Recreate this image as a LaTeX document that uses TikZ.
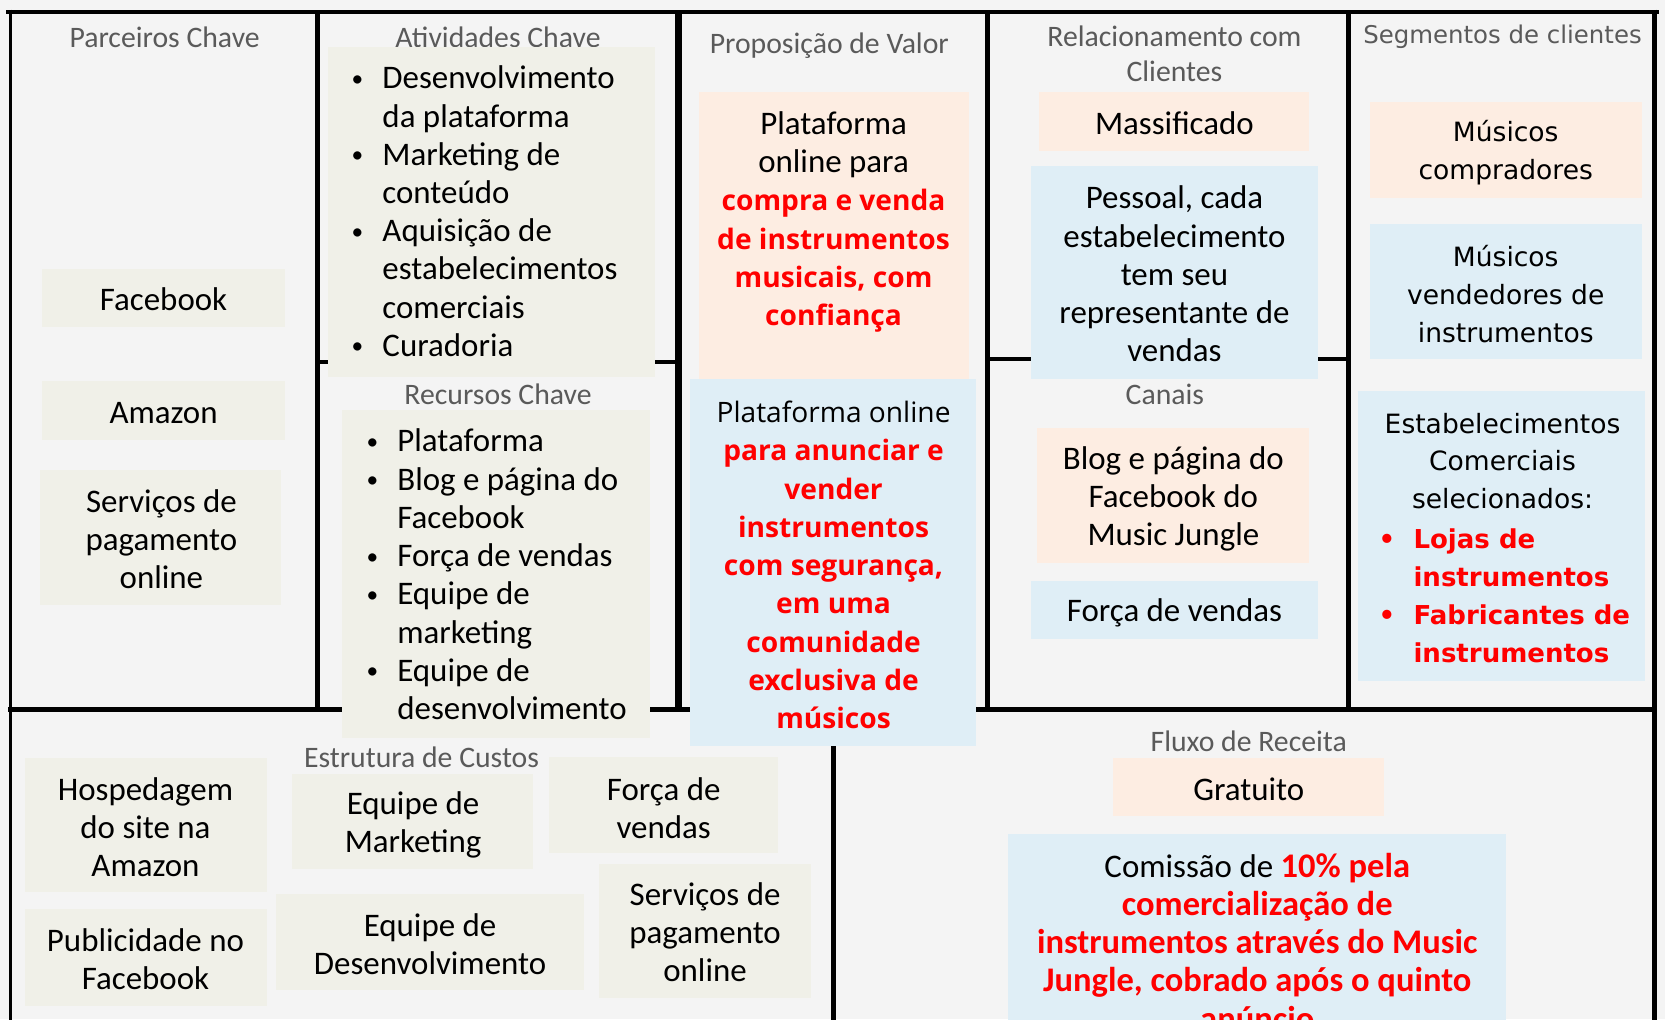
\documentclass[tikz,border=0pt]{standalone}
\usepackage{fontspec}
\setmainfont{Carlito}
\newfontfamily\djvfam{DejaVu Sans}
\newfontfamily\osfam{Open Sans}
\definecolor{bgcol}{RGB}{244,244,244}
\definecolor{beige}{RGB}{240,240,232}
\definecolor{peach}{RGB}{253,237,226}
\definecolor{lblue}{RGB}{223,238,246}
\definecolor{ttlgray}{RGB}{90,90,90}
\newcommand{\bodyfs}{\fontsize{31}{36}\selectfont}
\newcommand{\ttlfs}{\fontsize{28}{33}\selectfont}
\newcommand{\djfs}{\djvfam\fontsize{25}{35.5}\selectfont}
\newcommand{\osreg}[1]{{\osfam\fontsize{26.5}{36}\selectfont #1}}
\newcommand{\osred}[1]{{\osfam\bfseries\fontsize{26.5}{36}\selectfont\color{red}#1}}
\newcommand{\cbred}[1]{{\bfseries\fontsize{32.5}{36}\selectfont\color{red}#1}}
\newcommand{\bul}{\makebox[31pt][l]{\hspace{2pt}\raisebox{2.5pt}{\fontsize{22}{22}\selectfont •}}}
\newcommand{\ind}{\hspace*{31pt}}
\newcommand{\dbul}{\makebox[33pt][l]{•}}
\newcommand{\dind}{\hspace*{33pt}}
\newcommand{\mkbox}[6]{\node[fill=#2,inner sep=0pt,outer sep=0pt,minimum width={(#5-#3)*1pt},minimum height={(#6-#4)*1pt}] (#1) at ({(#3+#5)/2},{(#4+#6)/2}) {};}
\begin{document}
\begin{tikzpicture}[x=1pt,y=-1pt,
  frm/.style={draw=black,line width=4pt},
  body/.style={font=\bodyfs,align=center,inner sep=0pt},
  lst/.style={font=\bodyfs,align=left,inner sep=0pt,anchor=west},
  ttl/.style={font=\ttlfs,text=ttlgray,align=center,inner sep=0pt},
  dj/.style={font=\djfs,align=center,inner sep=0pt}]
\useasboundingbox (0,0) rectangle (1568,960);
\clip (0,0) rectangle (1568,960);
\fill[bgcol] (0,0) rectangle (1568,960);
% frame
\draw[frm] (6,11) -- (1562,11);
\draw[frm,line width=3pt] (10,9) -- (10,965);
\draw[frm] (1558,9) -- (1558,965);
\draw[frm,line width=5pt] (8,668) -- (1560,668);
\draw[frm] (299,11) -- (299,668);
\draw[frm,line width=6pt] (639,11) -- (639,668);
\draw[frm,line width=5pt] (930,11) -- (930,668);
\draw[frm] (1270,11) -- (1270,668);
\draw[frm] (299,341) -- (639,341);
\draw[frm] (930,338) -- (1270,338);
\draw[frm] (785,668) -- (785,965);
% titles
\node[ttl] (h1) at (155,35) {Parceiros Chave};
\node[ttl] (h2) at (469,35) {Atividades Chave};
\node[ttl] (h3) at (469,371) {Recursos Chave};
\node[ttl] (h4) at (781,43) {Proposição de Valor};
\node[ttl] (h5) at (1106,51) {Relacionamento com\\Clientes};
\node[ttl] (h6) at (1097,371) {Canais};
\node[ttl,font=\djvfam\fontsize{23}{30}\selectfont] (h7) at (1415,35) {Segmentos de clientes};
\node[ttl] (h8) at (397,713) {Estrutura de Custos};
\node[ttl] (h9) at (1176,698) {Fluxo de Receita};
% Parceiros
\mkbox{p1}{beige}{40}{253}{268}{308}
\node[body] (tp1) at (154,282) {Facebook};
\mkbox{p2}{beige}{40}{359}{268}{414}
\node[body] (tp2) at (154,389) {Amazon};
\mkbox{p3}{beige}{38}{443}{265}{570}
\node[body] (tp3) at (152,508) {Serviços de\\pagamento\\online};
% Atividades
\mkbox{a1}{beige}{309}{44}{617}{355}
\node[lst] (ta1) at (329,199) {\bul Desenvolvimento\\\ind da plataforma\\\bul Marketing de\\\ind conteúdo\\\bul Aquisição de\\\ind estabelecimentos\\\ind comerciais\\\bul Curadoria};
% Recursos
\mkbox{r1}{beige}{322}{386}{612}{695}
\node[lst] (tr1) at (343,541) {\bul Plataforma\\\bul Blog e página do\\\ind Facebook\\\bul Força de vendas\\\bul Equipe de\\\ind marketing\\\bul Equipe de\\\ind desenvolvimento};
% Proposicao
\mkbox{v1}{peach}{658}{87}{913}{357}
\node[body] (tv1) at (785,209) {Plataforma\\online para\\\osred{compra e venda}\\\osred{de instrumentos}\\\osred{musicais, com}\\\osred{confiança}};
\mkbox{v2}{lblue}{650}{357}{919}{703}
\node[body] (tv2) at (785,532) {\osreg{Plataforma online}\\\osred{para anunciar e}\\\osred{vender}\\\osred{instrumentos}\\\osred{com segurança,}\\\osred{em uma}\\\osred{comunidade}\\\osred{exclusiva de}\\\osred{músicos}};
% Relacionamento
\mkbox{c1}{peach}{978}{87}{1233}{142}
\node[body] (tc1) at (1106,116) {Massificado};
\mkbox{c2}{lblue}{971}{156}{1241}{357}
\node[body] (tc2) at (1106,258) {Pessoal, cada\\estabelecimento\\tem seu\\representante de\\vendas};
% Canais
\mkbox{ch1}{peach}{977}{403}{1233}{530}
\node[body] (tch1) at (1105,470) {Blog e página do\\Facebook do\\Music Jungle};
\mkbox{ch2}{lblue}{971}{547}{1241}{602}
\node[body] (tch2) at (1106,577) {Força de vendas};
% Segmentos
\mkbox{s1}{peach}{1290}{96}{1546}{186}
\node[dj] (ts1) at (1418,144) {Músicos\\compradores};
\mkbox{s2}{lblue}{1290}{211}{1546}{338}
\node[dj] (ts2) at (1418,277) {Músicos\\vendedores de\\instrumentos};
\mkbox{s3}{lblue}{1279}{368}{1549}{641}
\node[dj] (ts3) at (1415,434) {Estabelecimentos\\Comerciais\\selecionados:};
\node[dj,align=left,anchor=west,text=red,font=\djvfam\bfseries\fontsize{24.5}{36}\selectfont] (ts4) at (1298,561) {\dbul Lojas de\\\dind instrumentos\\\dbul Fabricantes de\\\dind instrumentos};
% Custos
\mkbox{k1}{beige}{24}{714}{251}{840}
\node[body] (tk1) at (137,779) {Hospedagem\\do site na\\Amazon};
\mkbox{k2}{beige}{24}{856}{251}{947}
\node[body] (tk2) at (137,903) {Publicidade no\\Facebook};
\mkbox{k3}{beige}{275}{729}{502}{818}
\node[body] (tk3) at (389,777) {Equipe de\\Marketing};
\mkbox{k4}{beige}{517}{713}{733}{803}
\node[body] (tk4) at (625,761) {Força de\\vendas};
\mkbox{k5}{beige}{260}{842}{550}{932}
\node[body] (tk5) at (405,889) {Equipe de\\Desenvolvimento};
\mkbox{k6}{beige}{564}{814}{764}{940}
\node[body] (tk6) at (664,878) {Serviços de\\pagamento\\online};
% Fluxo
\mkbox{f1}{peach}{1048}{714}{1303}{768}
\node[body] (tf1) at (1176,743) {Gratuito};
\mkbox{f2}{lblue}{949}{785}{1418}{1000}
\node[body,anchor=north] (tf2) at (1184,803) {Comissão de \cbred{10\% pela}\\\cbred{comercialização de}\\\cbred{instrumentos através do Music}\\\cbred{Jungle, cobrado após o quinto}\\\cbred{anúncio}};
\end{tikzpicture}
\end{document}
